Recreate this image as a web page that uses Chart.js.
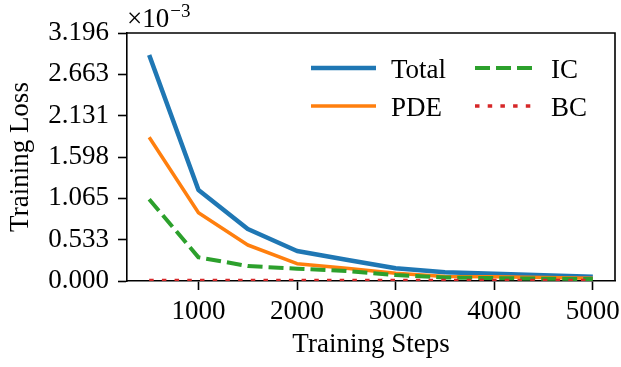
<!DOCTYPE html>
<html>
<head>
<meta charset="utf-8">
<script src="https://cdn.jsdelivr.net/npm/chart.js@4.4.1/dist/chart.umd.min.js"></script>
<style>
  body { margin: 0; background: #fff; }
  canvas { display: block; }
</style>
</head>
<body>
<canvas id="lossChart" width="621" height="367"></canvas>
<script>
// training steps (x axis)
const steps = [500, 1000, 1500, 2000, 2500, 3000, 3500, 4000, 4500, 5000];

// losses, in units of 1e-3
const totalLoss = [2.912, 1.173, 0.670, 0.387, 0.275, 0.165, 0.112, 0.095, 0.075, 0.055];
const pdeLoss   = [1.852, 0.880, 0.464, 0.223, 0.165, 0.099, 0.058, 0.055, 0.045, 0.035];
const icLoss    = [1.053, 0.305, 0.193, 0.159, 0.128, 0.077, 0.045, 0.037, 0.030, 0.025];
const bcLoss    = [0.008, 0.007, 0.007, 0.006, 0.006, 0.006, 0.006, 0.006, 0.006, 0.006];

// tick labels
const xTicks = [1000, 2000, 3000, 4000, 5000];
const yTickLabels = ['0.000', '0.533', '1.065', '1.598', '2.131', '2.663', '3.196'];

const fuente = "'Liberation Serif', 'DejaVu Serif', serif";
const tam = 27;
const toPoints = arr => arr.map((v, i) => ({ x: steps[i], y: v }));

// legend drawn in two columns inside the plot
const leyenda = {
  id: 'leyenda',
  afterDatasetsDraw(chart) {
    const c = chart.ctx;
    const colX = [311, 475], lineLen = [65, 57], textX = [391, 551], rowY = [68, 106];
    chart.data.datasets.forEach((ds, i) => {
      const col = Math.floor(i / 2), row = i % 2;
      const y = rowY[row];
      c.save();
      c.strokeStyle = ds.borderColor;
      c.lineWidth = ds.borderWidth;
      c.setLineDash(ds.borderDash || []);
      c.lineCap = 'butt';
      c.beginPath();
      c.moveTo(colX[col], y);
      c.lineTo(colX[col] + lineLen[col], y);
      c.stroke();
      c.setLineDash([]);
      c.fillStyle = '#000';
      c.font = tam + 'px ' + fuente;
      c.textBaseline = 'alphabetic';
      c.fillText(ds.label, textX[col], y + 10);
      c.restore();
    });
  }
};

// top/right spines and the exponent label
const marco = {
  id: 'marco',
  afterDraw(chart) {
    const c = chart.ctx;
    const a = chart.chartArea;
    c.save();
    c.strokeStyle = '#000';
    c.lineWidth = 1.6;
    c.beginPath();
    c.moveTo(a.left, a.top);
    c.lineTo(a.right, a.top);
    c.lineTo(a.right, a.bottom);
    c.stroke();
    c.fillStyle = '#000';
    c.textBaseline = 'alphabetic';
    c.font = tam + 'px ' + fuente;
    c.fillText('×10', a.left, 27);
    const w = c.measureText('×10').width;
    c.font = '19px ' + fuente;
    c.fillText('−3', a.left + w + 1, 17);
    c.restore();
  }
};

const ejeNegro = {
  border: { display: true, color: '#000', width: 1.6 },
  grid: { drawOnChartArea: false, drawTicks: true, tickLength: 9, color: '#000', tickWidth: 1.6 },
};

const lossChart = new Chart(document.getElementById('lossChart').getContext('2d'), {
  type: 'line',
  data: {
    datasets: [
      { label: 'Total', data: toPoints(totalLoss), borderColor: '#1f77b4', borderWidth: 4.5, order: 4 },
      { label: 'PDE', data: toPoints(pdeLoss), borderColor: '#ff7f0e', borderWidth: 3.5, order: 3 },
      { label: 'IC', data: toPoints(icLoss), borderColor: '#2ca02c', borderWidth: 4, borderDash: [15, 6], order: 2 },
      { label: 'BC', data: toPoints(bcLoss), borderColor: '#d62728', borderWidth: 3.5, borderDash: [4.5, 8.2], order: 1 }
    ]
  },
  options: {
    animation: false,
    responsive: false,
    devicePixelRatio: 1,
    elements: {
      point: { radius: 0 },
      line: { tension: 0, fill: false, borderJoinStyle: 'round', borderCapStyle: 'butt' }
    },
    layout: { padding: { top: 33, right: 6, left: 0, bottom: 0 } },
    plugins: { legend: { display: false }, tooltip: { enabled: false } },
    scales: {
      x: {
        ...ejeNegro,
        type: 'linear',
        min: 275,
        max: 5225,
        afterBuildTicks: s => { s.ticks = xTicks.map(v => ({ value: v })); },
        afterFit: s => { s.height = 86; s.paddingLeft = 0; s.paddingRight = 0; },
        ticks: { color: '#000', font: { family: fuente, size: tam }, padding: 6, maxRotation: 0, callback: v => String(v) },
        title: { display: true, text: 'Training Steps', color: '#000', font: { family: fuente, size: tam }, padding: { bottom: 6 } }
      },
      y: {
        ...ejeNegro,
        min: 0,
        max: 3.196,
        afterBuildTicks: s => { s.ticks = yTickLabels.map(t => ({ value: parseFloat(t) })); },
        afterFit: s => { s.width = 127; s.paddingTop = 0; s.paddingBottom = 0; },
        ticks: {
          color: '#000', font: { family: fuente, size: tam }, padding: 9,
          callback: (v, i) => yTickLabels[i]
        },
        title: { display: true, text: 'Training Loss', color: '#000', font: { family: fuente, size: tam }, padding: { top: 5 } }
      }
    }
  },
  plugins: [leyenda, marco]
});
</script>
</body>
</html>
